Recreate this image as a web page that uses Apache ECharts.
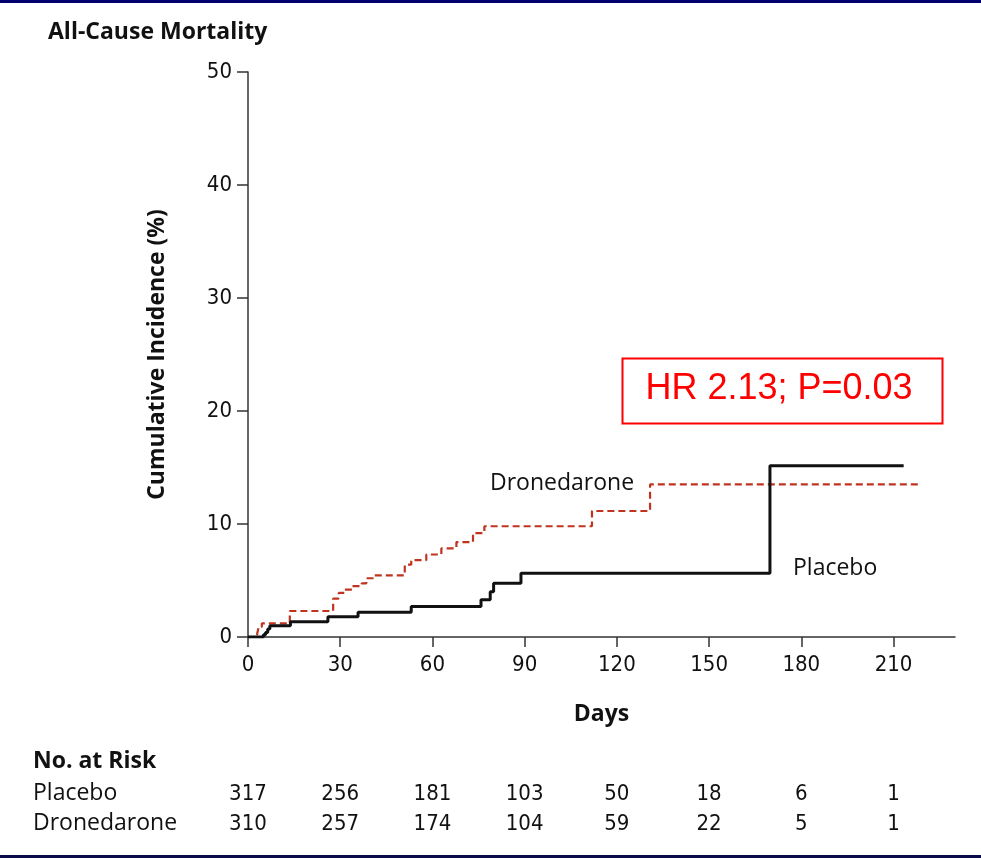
<!DOCTYPE html>
<html>
<head>
<meta charset="utf-8">
<script src="https://cdn.jsdelivr.net/npm/echarts@6/dist/echarts.min.js"></script>
<style>
html,body{margin:0;padding:0;background:#fff;}
#chart{width:981px;height:858px;}
</style>
</head>
<body>
<div id="chart"></div>
<script>
// ---- data ----
var xTicks = [0, 30, 60, 90, 120, 150, 180, 210];
var yTicks = [0, 10, 20, 30, 40, 50];

var placeboSteps = [
  [0, 0], [5.0, 0.2], [5.7, 0.4], [6.4, 0.7], [7.1, 1.0], [13.8, 1.35], [26, 1.8],
  [35.8, 2.2], [53.1, 2.7], [75.8, 3.3], [78.8, 4.0], [79.9, 4.75], [88.8, 5.65],
  [169.8, 15.15], [213.3, 15.15]
];
var dronedaroneSteps = [
  [0, 0], [3.0, 0.3], [3.5, 0.9], [4.5, 1.2], [13.6, 2.3], [27.7, 3.4], [29.5, 3.9],
  [31.5, 4.2], [34, 4.5], [37, 4.75], [38.5, 5.2], [41, 5.45], [51, 6.4], [53.1, 6.8],
  [58, 7.3], [62.9, 7.85], [67.8, 8.4], [73.2, 9.2], [76.9, 9.8], [111.9, 11.15],
  [130.8, 13.5], [218, 13.5]
];

var riskPlacebo = [317, 256, 181, 103, 50, 18, 6, 1];
var riskDronedarone = [310, 257, 174, 104, 59, 22, 5, 1];

var titleText = 'All-Cause Mortality';
var yName = 'Cumulative Incidence (%)';
var xName = 'Days';
var hrText = 'HR 2.13; P=0.03';

// ---- chart ----
var humanist = '"Open Sans", "Noto Sans", sans-serif';
var narrow = '"Liberation Sans Narrow", "DejaVu Sans Condensed", "Liberation Sans", sans-serif';

var chart = echarts.init(document.getElementById('chart'), null, {renderer: 'canvas'});

function riskAxis(gridIndex, arr) {
  return {
    type: 'value', gridIndex: gridIndex, min: 0, max: 230, interval: 30,
    axisLine: {show: false}, axisTick: {show: false}, splitLine: {show: false},
    axisLabel: {
      customValues: xTicks, margin: 0, verticalAlign: 'middle',
      fontFamily: narrow, fontSize: 22, color: '#111',
      formatter: function (v) { return String(arr[Math.round(v / 30)]); }
    }
  };
}

var option = {
  backgroundColor: '#fff',
  animation: false,
  grid: [
    {left: 248, right: 26, top: 72, bottom: 221, containLabel: false},
    {left: 248, right: 26, top: 793, height: 1},
    {left: 248, right: 26, top: 823, height: 1}
  ],
  xAxis: [
    {
      type: 'value', gridIndex: 0, min: 0, max: 230, interval: 30,
      name: xName, nameLocation: 'middle', nameGap: 66,
      nameTextStyle: {fontFamily: humanist, fontWeight: 'bold', fontSize: 23, color: '#111'},
      axisLine: {show: true, lineStyle: {color: '#333', width: 1.5}},
      axisTick: {show: true, customValues: xTicks, length: 10, inside: false, lineStyle: {color: '#333', width: 1.5}},
      axisLabel: {customValues: xTicks, margin: 17, fontFamily: narrow, fontSize: 22, color: '#111'},
      splitLine: {show: false}
    },
    riskAxis(1, riskPlacebo),
    riskAxis(2, riskDronedarone)
  ],
  yAxis: [
    {
      type: 'value', gridIndex: 0, min: 0, max: 50, interval: 10,
      name: yName, nameLocation: 'middle', nameGap: 79, nameRotate: 90,
      nameTextStyle: {fontFamily: humanist, fontWeight: 'bold', fontSize: 23, color: '#111'},
      axisLine: {show: true, lineStyle: {color: '#333', width: 1.5}},
      axisTick: {show: true, length: 11, inside: false, lineStyle: {color: '#333', width: 1.5}},
      axisLabel: {margin: 16, fontFamily: narrow, fontSize: 22, color: '#111'},
      splitLine: {show: false}
    },
    {type: 'value', gridIndex: 1, show: false},
    {type: 'value', gridIndex: 2, show: false}
  ],
  series: [
    {
      name: 'Dronedarone', type: 'line', xAxisIndex: 0, yAxisIndex: 0,
      step: 'end', showSymbol: false, symbol: 'none',
      data: dronedaroneSteps,
      lineStyle: {color: '#c0341f', width: 2.2, type: [7, 4]},
      z: 3
    },
    {
      name: 'Placebo', type: 'line', xAxisIndex: 0, yAxisIndex: 0,
      step: 'end', showSymbol: false, symbol: 'none',
      data: placeboSteps,
      lineStyle: {color: '#111', width: 3},
      z: 4
    }
  ],
  graphic: [
    {type: 'rect', left: 0, top: 0, shape: {width: 981, height: 3}, style: {fill: '#000070'}},
    {type: 'rect', left: 0, top: 855, shape: {width: 981, height: 3}, style: {fill: '#0b0b4a'}},
    {type: 'text', x: 48, y: 32, style: {text: titleText, font: 'bold 23px ' + humanist, fill: '#111', textVerticalAlign: 'middle'}},
    {type: 'text', x: 490, y: 483, style: {text: 'Dronedarone', font: '23px ' + humanist, fill: '#111', textVerticalAlign: 'middle'}},
    {type: 'text', x: 793, y: 568, style: {text: 'Placebo', font: '23px ' + humanist, fill: '#111', textVerticalAlign: 'middle'}},
    {type: 'rect', left: 620, top: 356, shape: {width: 320, height: 65}, style: {fill: 'none', stroke: '#ff0000', lineWidth: 2}},
    {type: 'text', x: 779, y: 389, style: {text: hrText, font: '36px "Liberation Sans", Arial, sans-serif', fill: '#ff0000', textAlign: 'center', textVerticalAlign: 'middle'}},
    {type: 'text', x: 33, y: 761, style: {text: 'No. at Risk', font: 'bold 23px ' + humanist, fill: '#111', textVerticalAlign: 'middle'}},
    {type: 'text', x: 33, y: 793, style: {text: 'Placebo', font: '23px ' + humanist, fill: '#111', textVerticalAlign: 'middle'}},
    {type: 'text', x: 33, y: 823, style: {text: 'Dronedarone', font: '23px ' + humanist, fill: '#111', textVerticalAlign: 'middle'}}
  ]
};
chart.setOption(option);
</script>
</body>
</html>
